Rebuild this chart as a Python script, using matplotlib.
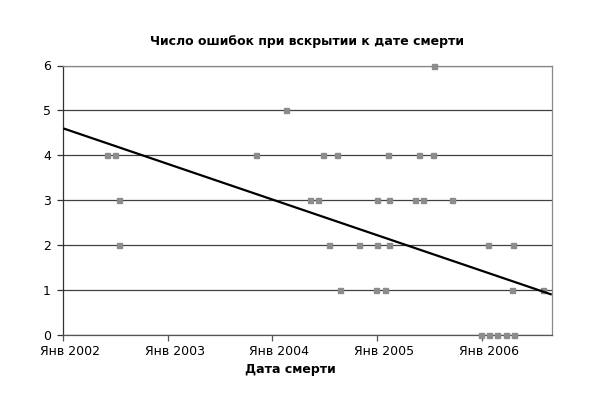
import matplotlib
matplotlib.use("Agg")
import matplotlib.pyplot as plt
import matplotlib.dates as mdates
import matplotlib.transforms as mtransforms
import numpy as np

plt.rcParams["font.family"] = ["DejaVu Sans"]

# one point per autopsy: date of death and number of errors found
death_dates = [
    "2002-06-04", "2002-07-01", "2002-07-15", "2002-07-13",
    "2003-11-04", "2004-02-18", "2004-05-13", "2004-06-07",
    "2004-06-27", "2004-07-18", "2004-08-15", "2004-08-24",
    "2004-10-30", "2004-12-30", "2005-01-02", "2005-01-02",
    "2005-01-29", "2005-02-07", "2005-02-12", "2005-02-12",
    "2005-05-14", "2005-05-27", "2005-06-09", "2005-07-14",
    "2005-07-19", "2005-09-20", "2005-12-31", "2006-01-23",
    "2006-01-28", "2006-02-25", "2006-03-27", "2006-04-16",
    "2006-04-20", "2006-04-25", "2006-08-05",
]
error_counts = [
    4, 4, 3, 2,
    4, 5, 3, 3,
    4, 2, 4, 1,
    2, 1, 3, 2,
    1, 4, 3, 2,
    3, 4, 3, 4,
    6, 3, 0, 2,
    0, 0, 0, 1,
    2, 0, 1,
]

# linear trend line, read at both ends of the date axis
trend_dates = ["2002-01-01", "2006-09-03"]
trend_values = [4.6, 0.9]

year_ticks = ["2002-01-01", "2003-01-01", "2004-01-01", "2005-01-01", "2006-01-01"]
year_labels = ["Янв 2002", "Янв 2003", "Янв 2004", "Янв 2005", "Янв 2006"]
y_ticks = [0, 1, 2, 3, 4, 5, 6]

x = mdates.date2num(np.array(death_dates, dtype="datetime64[D]"))
tx = mdates.date2num(np.array(trend_dates, dtype="datetime64[D]"))
xt = mdates.date2num(np.array(year_ticks, dtype="datetime64[D]"))

fig = plt.figure(figsize=(6.0, 3.93), dpi=100)
ax = fig.add_axes([63.3 / 600, 1 - 335 / 393, 488.4 / 600, 269.5 / 393])

ax.plot(x, error_counts, "s", ms=3.6, color="#8c8c8c", mec="#8c8c8c",
        zorder=3, clip_on=False)
ax.plot(tx, trend_values, color="black", lw=1.6, zorder=4, solid_capstyle="butt")

ax.set_xlim(tx[0], tx[1])
ax.set_ylim(0, 6)
ax.set_xticks(xt)
ax.set_xticklabels(year_labels, fontsize=9)
ax.set_yticks(y_ticks)
ax.tick_params(axis="y", labelsize=9, length=4, width=0.9, direction="out", pad=5, color="#333333")
ax.tick_params(axis="x", length=4, width=0.9, direction="out", pad=3, color="#555555")

# labels in the original sit slightly right of their ticks
shift = mtransforms.ScaledTranslation(7 / 100, 0, fig.dpi_scale_trans)
for lbl in ax.get_xticklabels():
    lbl.set_transform(lbl.get_transform() + shift)

ax.yaxis.grid(True, color="#404040", lw=0.9)
ax.set_axisbelow(True)
ax.spines["left"].set_color("#333333")
ax.spines["bottom"].set_color("#555555")
ax.spines["top"].set_color("#888888")
ax.spines["right"].set_color("#888888")
for s in ax.spines.values():
    s.set_linewidth(0.9)

ax.set_xlabel("Дата смерти", fontsize=9, fontweight="bold")
ax.xaxis.set_label_coords(0.464, -0.105)

fig.text(307.5 / 600, 1 - 41.5 / 393, "Число ошибок при вскрытии к дате смерти",
         ha="center", va="center", fontsize=9, fontweight="bold")

fig.savefig("out.png", dpi=100)
plt.close(fig)
